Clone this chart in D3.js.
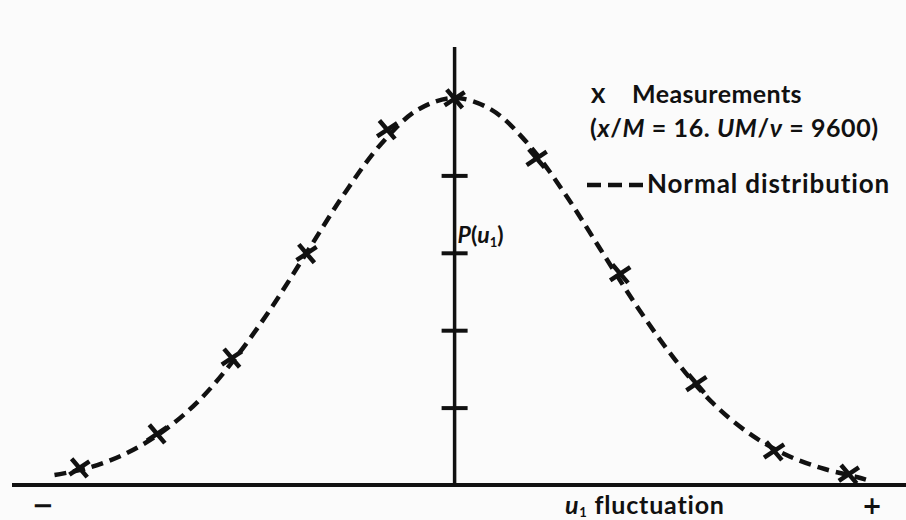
<!DOCTYPE html>
<html>
<head>
<meta charset="utf-8">
<script src="https://cdn.jsdelivr.net/npm/d3@7"></script>
<style>
  html, body { margin: 0; padding: 0; background: #fbfbfb; }
  text { font-family: Lato, "Open Sans", sans-serif; font-weight: 700; fill: #111; }
</style>
</head>
<body>
<svg id="chart" width="906" height="520"></svg>
<script>
// measurements (u1 in sigma units, P(u1) in tick units)
var measX = [-2.56, -2.03, -1.52, -1.01, -0.46, 0, 0.56, 1.13, 1.65, 2.18, 2.69];
var measY = [0.22, 0.66, 1.64, 2.99, 4.59, 4.99, 4.22, 2.73, 1.31, 0.44, 0.14];

// dashed curve
var curveX = [-2.73, -2.5, -2.25, -2.0, -1.75, -1.5, -1.25, -1.0, -0.75, -0.5, -0.25, 0,
              0.25, 0.5, 0.75, 1.0, 1.25, 1.5, 1.75, 2.0, 2.25, 2.5, 2.75, 2.84];
var curveY = [0.13, 0.22, 0.40, 0.68, 1.08, 1.63, 2.29, 3.03, 3.77, 4.41, 4.85, 5.0,
              4.85, 4.41, 3.77, 3.03, 2.29, 1.63, 1.08, 0.68, 0.40, 0.22, 0.10, 0.05];

var yTicks = [1, 2, 3, 4];

var svg = d3.select("#chart");

var x = d3.scaleLinear().domain([-3.02, 3.08]).range([12, 906]);
var y = d3.scaleLinear().domain([0, 5]).range([485, 98]);

// horizontal axis
svg.append("line")
  .attr("x1", x(-3.02)).attr("x2", x(3.08))
  .attr("y1", y(0)).attr("y2", y(0))
  .attr("stroke", "#111").attr("stroke-width", 4);

// vertical axis
svg.append("line")
  .attr("x1", x(0)).attr("x2", x(0))
  .attr("y1", y(0)).attr("y2", y(5.66))
  .attr("stroke", "#111").attr("stroke-width", 3.5);

// ticks on both sides of the vertical axis
var axL = d3.axisLeft(y).tickValues(yTicks).tickSize(13).tickFormat("");
var axR = d3.axisRight(y).tickValues(yTicks).tickSize(13).tickFormat("");
[axL, axR].forEach(function (ax) {
  var g = svg.append("g").attr("transform", "translate(" + x(0) + ",0)").call(ax);
  g.select(".domain").remove();
  g.selectAll(".tick line").attr("stroke", "#111").attr("stroke-width", 4);
});

// normal distribution
var line = d3.line()
  .x(function (d, i) { return x(curveX[i]); })
  .y(function (d, i) { return y(curveY[i]); })
  .curve(d3.curveCatmullRom);

svg.append("path")
  .attr("d", line(curveX))
  .attr("fill", "none")
  .attr("stroke", "#111")
  .attr("stroke-width", 4.5)
  .attr("stroke-dasharray", "12,7");

// measurement crosses
svg.selectAll(".meas")
  .data(measX)
  .enter()
  .append("path")
  .attr("class", "meas")
  .attr("transform", function (d, i) {
    return "translate(" + x(d) + "," + y(measY[i]) + ") rotate(8)";
  })
  .attr("d", "M-9,-8L9,8M-9,8L9,-8")
  .attr("stroke", "#111")
  .attr("stroke-width", 4.5)
  .attr("fill", "none");

// legend
svg.append("text").attr("x", 591).attr("y", 103).style("font-size", "21px").style("font-weight", 900).text("X");
svg.append("text").attr("x", 632).attr("y", 103).style("font-size", "25px")
  .style("letter-spacing", "0.4px").text("Measurements");

var t2 = svg.append("text").attr("x", 590).attr("y", 137).style("font-size", "25px")
  .style("letter-spacing", "0.6px");
t2.append("tspan").text("(");
t2.append("tspan").style("font-style", "italic").text("x");
t2.append("tspan").text("/");
t2.append("tspan").style("font-style", "italic").text("M");
t2.append("tspan").text(" = 16. ");
t2.append("tspan").style("font-style", "italic").text("UM");
t2.append("tspan").text("/");
t2.append("tspan").style("font-style", "italic").text("ν");
t2.append("tspan").text(" = 9600)");

svg.append("line")
  .attr("x1", 587).attr("x2", 643)
  .attr("y1", 185).attr("y2", 185)
  .attr("stroke", "#111").attr("stroke-width", 4.5)
  .attr("stroke-dasharray", "14,7");
svg.append("text").attr("x", 647).attr("y", 193).style("font-size", "26px")
  .style("letter-spacing", "0.9px").text("Normal distribution");

// axis labels
var pl = svg.append("text").attr("x", x(0) + 3).attr("y", 243).style("font-size", "23px");
pl.append("tspan").style("font-style", "italic").text("P");
pl.append("tspan").text("(");
pl.append("tspan").style("font-style", "italic").text("u");
pl.append("tspan").attr("dy", 4).style("font-size", "13px").text("1");
pl.append("tspan").attr("dy", -4).text(")");

var ul = svg.append("text").attr("x", 565).attr("y", 514).style("font-size", "25px")
  .style("letter-spacing", "0.8px");
ul.append("tspan").style("font-style", "italic").text("u");
ul.append("tspan").attr("dy", 3).style("font-size", "13px").text("1");
ul.append("tspan").attr("dy", -3).text(" fluctuation");

svg.append("text").attr("x", 43).attr("y", 514).attr("text-anchor", "middle")
  .style("font-family", "'DejaVu Sans'").style("font-size", "26px").text("−");
svg.append("text").attr("x", 872).attr("y", 514).attr("text-anchor", "middle")
  .style("font-family", "'DejaVu Sans'").style("font-size", "24px").text("+");
</script>
</body>
</html>
